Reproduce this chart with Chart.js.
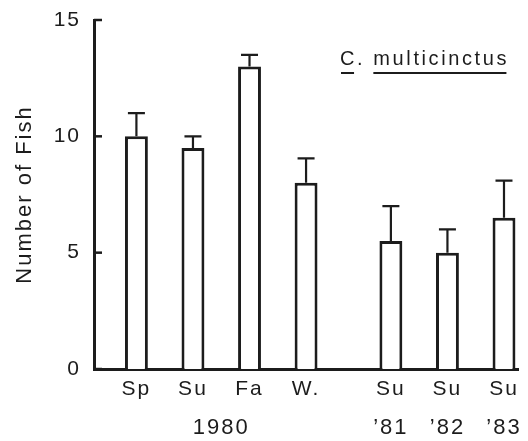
<!DOCTYPE html>
<html>
<head>
<meta charset="utf-8">
<script src="https://cdn.jsdelivr.net/npm/chart.js@4.4.1/dist/chart.umd.min.js"></script>
<style>
  body { margin: 0; background: #fff; }
  canvas { display: block; }
</style>
</head>
<body>
<canvas id="fishChart" width="528" height="441"></canvas>
<script>
// values
const seasons = ["Sp", "Su", "Fa", "W.", "Su", "Su", "Su"];
const years = ["1980", "1980", "1980", "1980", "’81", "’82", "’83"];
const fish = [10, 9.5, 13, 8, 5.5, 5, 6.5];
const errs = [1.0, 0.5, 0.5, 1.05, 1.5, 1.0, 1.6];
const yTicks = [0, 5, 10, 15];

const ink = "#1c1c1c";
const fontFamily = "'Liberation Sans', Arial, Helvetica, sans-serif";

// spread bars on a category axis with blank slots between them
// (one extra blank between the 1980 group and the later summers)
const slotLabels = [], slotValues = [], slotErrs = [], slotOfBar = [];
seasons.forEach(function (s, i) {
    slotLabels.push(""); slotValues.push(null); slotErrs.push(null);
    if (i > 0 && years[i - 1] === "1980" && years[i] !== "1980") {
        slotLabels.push(""); slotValues.push(null); slotErrs.push(null);
    }
    slotOfBar.push(slotLabels.length);
    slotLabels.push(s); slotValues.push(fish[i]); slotErrs.push(errs[i]);
});

// second row: each year label centred under its group of bars
const yearLabels = slotLabels.map(function () { return ""; });
years.forEach(function (y, i) {
    if (i > 0 && years[i - 1] === y) return;
    let last = i;
    while (last + 1 < years.length && years[last + 1] === y) last++;
    yearLabels[Math.round((slotOfBar[i] + slotOfBar[last]) / 2)] = y;
});

const spacing = {
    id: "spacing",
    beforeLayout(chart) { chart.ctx.letterSpacing = "2px"; },
    beforeDraw(chart) { chart.ctx.letterSpacing = "2px"; }
};

const extras = {
    id: "extras",
    afterDatasetsDraw(chart) {
        const ctx = chart.ctx;
        const y = chart.scales.y;
        const area = chart.chartArea;
        const meta = chart.getDatasetMeta(0);
        ctx.save();
        ctx.strokeStyle = ink;

        // inward tick marks on the value axis
        ctx.lineWidth = 2.5;
        yTicks.forEach(function (v) {
            const py = y.getPixelForValue(v);
            ctx.beginPath();
            ctx.moveTo(area.left, py);
            ctx.lineTo(area.left + 8, py);
            ctx.stroke();
        });

        // error bars (upper half only)
        ctx.lineWidth = 2.2;
        meta.data.forEach(function (bar, i) {
            if (slotValues[i] === null) return;
            const top = y.getPixelForValue(slotValues[i]);
            const cap = y.getPixelForValue(slotValues[i] + slotErrs[i]);
            ctx.beginPath();
            ctx.moveTo(bar.x, top);
            ctx.lineTo(bar.x, cap);
            ctx.moveTo(bar.x - 8.5, cap);
            ctx.lineTo(bar.x + 8.5, cap);
            ctx.stroke();
        });

        // species name, underlined
        ctx.fillStyle = ink;
        ctx.font = "20px " + fontFamily;
        ctx.letterSpacing = "2.6px";
        ctx.textBaseline = "alphabetic";
        const x0 = area.left + 246;
        const base = 65;
        ctx.fillText("C.", x0, base);
        const x1 = x0 + ctx.measureText("C. ").width;
        ctx.fillText("multicinctus", x1, base);
        const wC = ctx.measureText("C").width - 3;
        const wM = ctx.measureText("multicinctus").width - 2.6;
        ctx.lineWidth = 2;
        ctx.beginPath();
        ctx.moveTo(x0 + 1, base + 8);
        ctx.lineTo(x0 + wC, base + 8);
        ctx.moveTo(x1, base + 8);
        ctx.lineTo(x1 + wM, base + 8);
        ctx.stroke();
        ctx.restore();
    }
};

new Chart(document.getElementById("fishChart").getContext("2d"), {
    type: "bar",
    data: {
        labels: slotLabels,
        datasets: [{
            label: "Number of Fish",
            data: slotValues,
            backgroundColor: "#ffffff",
            borderColor: ink,
            borderWidth: 3,
            barPercentage: 0.81,
            categoryPercentage: 1
        }]
    },
    options: {
        responsive: false,
        animation: false,
        layout: { padding: { top: 20, right: 6, bottom: 0, left: 0 } },
        plugins: {
            legend: { display: false },
            tooltip: { enabled: false }
        },
        scales: {
            x: {
                offset: true,
                grid: { display: false, drawTicks: false },
                border: { display: true, color: ink, width: 3 },
                ticks: {
                    autoSkip: false, maxRotation: 0, padding: 8, color: ink,
                    font: { family: fontFamily, size: 21 }
                },
                afterFit(scale) { scale.height = 40; }
            },
            x2: {
                type: "category",
                labels: yearLabels,
                position: "bottom",
                offset: true,
                grid: { display: false, drawTicks: false },
                border: { display: false },
                ticks: {
                    autoSkip: false, maxRotation: 0, padding: 6, color: ink,
                    font: { family: fontFamily, size: 22 }
                },
                afterFit(scale) { scale.height = 32; }
            },
            y: {
                min: 0,
                max: 15,
                grid: { display: false, drawTicks: false },
                border: { display: true, color: ink, width: 3 },
                ticks: {
                    stepSize: 5, padding: 13, color: ink,
                    font: { family: fontFamily, size: 21 }
                },
                title: {
                    display: true,
                    text: "Number of Fish",
                    color: ink,
                    padding: { top: 12, bottom: 0 },
                    font: { family: fontFamily, size: 22 }
                },
                afterFit(scale) {
                    scale.width = 94;
                    scale.paddingTop = 10;
                    scale.paddingBottom = 10;
                }
            }
        }
    },
    plugins: [spacing, extras]
});
</script>
</body>
</html>
